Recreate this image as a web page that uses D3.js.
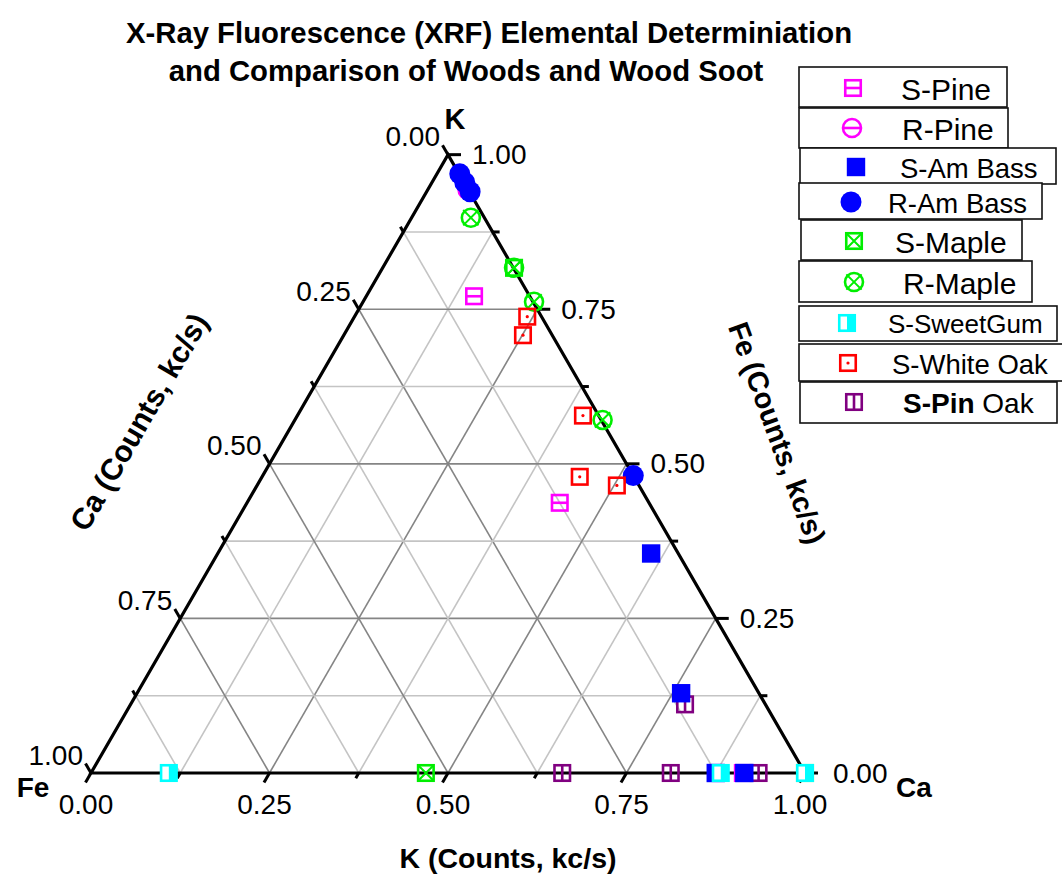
<!DOCTYPE html>
<html><head><meta charset="utf-8">
<script src="https://cdn.jsdelivr.net/npm/d3@7"></script>
<style>body{margin:0;background:#fff;} svg{display:block;font-family:Arial,"Liberation Sans",sans-serif;}</style>
</head><body>
<svg id="chart" width="1062" height="888"></svg>
<script>
// ---------- data (K = bottom axis, Fe = right axis, Ca = 1 - K - Fe) ----------
const seriesNames = ["S-Pine","R-Pine","S-Am Bass","R-Am Bass","S-Maple","R-Maple","S-SweetGum","S-White Oak","S-Pin Oak"];
const sPineK      = [0.151, 0.438, 0.913];
const sPineFe     = [0.771, 0.437, 0.000];
const rPineK      = [0.056];
const rPineFe     = [0.943];
const sAmBassK    = [0.607, 0.762, 0.875, 0.915];
const sAmBassFe   = [0.355, 0.129, 0.000, 0.000];
const rAmBassK    = [0.032, 0.046, 0.061, 0.519];
const rAmBassFe   = [0.969, 0.955, 0.940, 0.481];
const sMapleK     = [0.184, 0.469, 1.000];
const sMapleFe    = [0.817, 0.000, 0.000];
const rMapleK     = [0.083, 0.184, 0.2395, 0.431];
const rMapleFe    = [0.898, 0.817, 0.762, 0.571];
const sSweetGumK  = [0.109, 0.882, 1.000];
const sSweetGumFe = [0.000, 0.000, 0.000];
const sWhiteOakK  = [0.242, 0.251, 0.400, 0.445, 0.504];
const sWhiteOakFe = [0.738, 0.708, 0.578, 0.479, 0.465];
const sPinOakK    = [0.7765, 0.660, 0.812, 0.935];
const sPinOakFe   = [0.111, 0.000, 0.000, 0.000];

const tickValues = [0, 0.125, 0.25, 0.375, 0.5, 0.625, 0.75, 0.875, 1];
const majorTicks = [0, 0.25, 0.5, 0.75, 1];
const tickLabels = ["0.00","0.25","0.50","0.75","1.00"];
const titleLines = ["X-Ray Fluorescence (XRF) Elemental Determiniation","and Comparison of Woods and Wood Soot"];

// ---------- styles ----------
const styles = {
  "S-Pine":     {shape:"sqH",   color:"#ff00ff"},
  "R-Pine":     {shape:"cirH",  color:"#ff00ff"},
  "S-Am Bass":  {shape:"sqF",   color:"#0000ff"},
  "R-Am Bass":  {shape:"cirF",  color:"#0000ff"},
  "S-Maple":    {shape:"sqX",   color:"#00ee00"},
  "R-Maple":    {shape:"cirX",  color:"#00ee00"},
  "S-SweetGum": {shape:"sqHalf",color:"#00ffff"},
  "S-White Oak":{shape:"sqDot", color:"#ff0000"},
  "S-Pin Oak":  {shape:"sqV",   color:"#800080"}
};
const seriesData = {
  "S-Pine":[sPineK,sPineFe], "R-Pine":[rPineK,rPineFe], "S-Am Bass":[sAmBassK,sAmBassFe],
  "R-Am Bass":[rAmBassK,rAmBassFe], "S-Maple":[sMapleK,sMapleFe], "R-Maple":[rMapleK,rMapleFe],
  "S-SweetGum":[sSweetGumK,sSweetGumFe], "S-White Oak":[sWhiteOakK,sWhiteOakFe], "S-Pin Oak":[sPinOakK,sPinOakFe]
};
const drawOrder = ["S-Pin Oak","S-Pine","R-Pine","S-Am Bass","R-Am Bass","S-Maple","R-Maple","S-SweetGum","S-White Oak"];

// ---------- geometry ----------
const svg = d3.select("#chart");
const ox = 91, oy = 773, side = 714;
const xS = d3.scaleLinear().domain([0,1]).range([0, side]);
const hS = d3.scaleLinear().domain([0,1]).range([0, side*Math.sqrt(3)/2]);
const pt = (k, fe) => [ox + xS(k) + xS(fe)/2, oy - hS(fe)];
const c60 = 0.5, s60 = Math.sqrt(3)/2;

// grid
const gGrid = svg.append("g");
tickValues.filter(t => t > 0 && t < 1).forEach(t => {
  const major = majorTicks.includes(t);
  const col = major ? "#858585" : "#c4c4c4";
  const segs = [
    [pt(0,t), pt(1-t,t)],
    [pt(t,0), pt(t,1-t)],
    [pt(0,1-t), pt(1-t,0)]
  ];
  segs.forEach(s => gGrid.append("line")
    .attr("x1",s[0][0]).attr("y1",s[0][1]).attr("x2",s[1][0]).attr("y2",s[1][1])
    .attr("stroke",col).attr("stroke-width",1.6));
});

// axes
const A = pt(0,0), B = pt(1,0), C = pt(0,1);
svg.append("path").attr("d", d3.line()([A,B,C,A]) + "Z")
  .attr("fill","none").attr("stroke","#000").attr("stroke-width",3.2).attr("stroke-linejoin","miter");

const gTicks = svg.append("g").attr("stroke","#000").attr("stroke-width",3);
tickValues.forEach(t => {
  const major = majorTicks.includes(t);
  let p = pt(t,0), L = major ? 11 : 6;
  gTicks.append("line").attr("x1",p[0]).attr("y1",p[1]).attr("x2",p[0]-L*c60).attr("y2",p[1]+L*s60);
  p = pt(1-t,t); L = major ? 13 : 7;
  gTicks.append("line").attr("x1",p[0]).attr("y1",p[1]).attr("x2",p[0]+L).attr("y2",p[1]);
  p = pt(0,1-t); L = major ? 11 : 6;
  gTicks.append("line").attr("x1",p[0]).attr("y1",p[1]).attr("x2",p[0]-L*c60).attr("y2",p[1]-L*s60);
});

const gLab = svg.append("g").attr("font-size",28).attr("fill","#000");
majorTicks.forEach((t,i) => {
  let p = pt(t,0);
  gLab.append("text").attr("x",p[0]-5).attr("y",p[1]+31).attr("text-anchor","middle")
    .attr("dominant-baseline","central").text(tickLabels[i]);
  p = pt(1-t,t);
  gLab.append("text").attr("x",p[0]+ (t===0?28:24)).attr("y",p[1]).attr("text-anchor","start")
    .attr("dominant-baseline","central").text(tickLabels[i]);
  p = pt(0,1-t);
  gLab.append("text").attr("x",p[0]-8).attr("y",p[1]-18).attr("text-anchor","end")
    .attr("dominant-baseline","central").text(tickLabels[i]);
});

// vertex & axis titles
const bold = (x,y,txt,size,rot) => svg.append("text").attr("x",x).attr("y",y)
  .attr("text-anchor","middle").attr("dominant-baseline","central")
  .attr("font-weight","bold").attr("font-size",size)
  .attr("transform", rot ? `rotate(${rot},${x},${y})` : null).text(txt);
bold(455,119,"K",29);
bold(33,787,"Fe",28);
bold(914,787,"Ca",28);
bold(508,858,"K (Counts, kc/s)",28.5);
bold(139,422,"Ca (Counts, kc/s)",30,-60);
bold(777,433,"Fe (Counts, kc/s)",29,70);
bold(489,32,titleLines[0],29.3);
bold(466,70,titleLines[1],29.3);

// ---------- markers ----------
function drawMarker(g, shape, color, x, y) {
  const h = 7.75, sw = 2.6;
  const mg = g.append("g").attr("transform",`translate(${x},${y})`);
  if (shape === "sqF") {
    mg.append("rect").attr("x",-9.2).attr("y",-9.2).attr("width",18.4).attr("height",18.4).attr("fill",color);
  } else if (shape === "cirF") {
    mg.append("circle").attr("r",10.5).attr("fill",color);
  } else if (shape.startsWith("cir")) {
    const r = 9;
    mg.append("circle").attr("r",r).attr("fill","none").attr("stroke",color).attr("stroke-width",sw);
    if (shape === "cirH") mg.append("line").attr("x1",-r).attr("x2",r).attr("y1",0).attr("y2",0).attr("stroke",color).attr("stroke-width",sw);
    if (shape === "cirX") {
      const d = r*0.85;
      mg.append("path").attr("d",`M${-d},${-d}L${d},${d}M${d},${-d}L${-d},${d}`).attr("stroke",color).attr("stroke-width",2);
    }
  } else {
    if (shape === "sqHalf") {
      mg.append("rect").attr("x",-h).attr("y",-h).attr("width",2*h).attr("height",2*h).attr("fill","#fff");
      mg.append("rect").attr("x",0).attr("y",-h).attr("width",h).attr("height",2*h).attr("fill",color);
    }
    mg.append("rect").attr("x",-h).attr("y",-h).attr("width",2*h).attr("height",2*h)
      .attr("fill","none").attr("stroke",color).attr("stroke-width",sw);
    if (shape === "sqH") mg.append("line").attr("x1",-h).attr("x2",h).attr("y1",0).attr("y2",0).attr("stroke",color).attr("stroke-width",sw);
    if (shape === "sqV") mg.append("line").attr("x1",0).attr("x2",0).attr("y1",-h).attr("y2",h).attr("stroke",color).attr("stroke-width",sw);
    if (shape === "sqX") mg.append("path").attr("d",`M${-h},${-h}L${h},${h}M${h},${-h}L${-h},${h}`).attr("stroke",color).attr("stroke-width",2);
    if (shape === "sqDot") mg.append("circle").attr("r",1.6).attr("fill",color);
  }
}

const gPts = svg.append("g");
drawOrder.forEach(name => {
  const [ks, fes] = seriesData[name];
  const st = styles[name];
  ks.forEach((k,i) => {
    const p = pt(k, fes[i]);
    drawMarker(gPts, st.shape, st.color, p[0], p[1]);
  });
});

// ---------- legend ----------
const legendBoxes = [
  [799,67,208,40],[799,108,209,40],[800,148,256,36],[799,183,243,36],[801,220,221,40],
  [799,261,233,41],[799,306,258,35],[799,344,270,37],[800,382,257,41]
];
const legendMarker = [[853,88],[852,128],[856,167],[851,202],[854,241],[854,282],[847,323],[848,363],[854,402]];
const legendTextX = [901,902,900,888,895,903,888,892,903];
const legendFont = [30,30,27.5,27.5,30,30,26,27.5,28];
const gLeg = svg.append("g");
seriesNames.forEach((name,i) => {
  const b = legendBoxes[i];
  gLeg.append("rect").attr("x",b[0]).attr("y",b[1]).attr("width",b[2]).attr("height",b[3])
    .attr("fill","#fff").attr("stroke","#111").attr("stroke-width",1.6);
  const st = styles[name];
  drawMarker(gLeg, st.shape, st.color, legendMarker[i][0], legendMarker[i][1]);
  const t = gLeg.append("text").attr("x",legendTextX[i]).attr("y",legendMarker[i][1]+1)
    .attr("dominant-baseline","central").attr("font-size",legendFont[i]);
  if (name === "S-Pin Oak") {
    t.append("tspan").attr("font-weight","bold").text("S-Pin");
    t.append("tspan").text(" Oak");
  } else t.text(name);
});
</script>
</body></html>
